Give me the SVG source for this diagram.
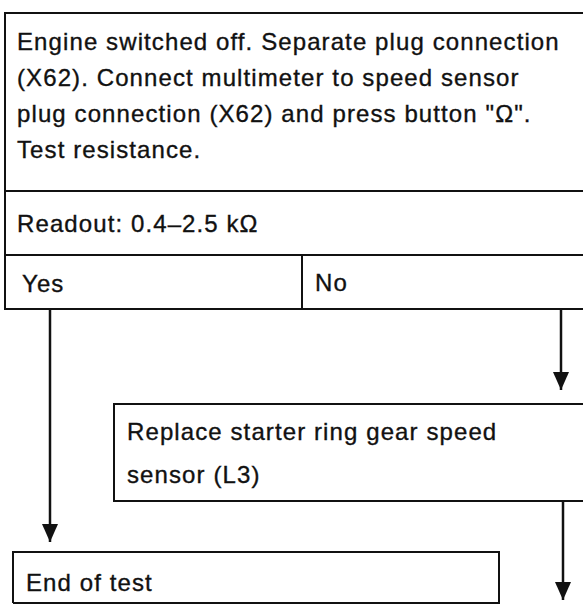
<svg xmlns="http://www.w3.org/2000/svg" width="583" height="605" viewBox="0 0 583 605">
<defs>
<style>
.t{font-family:"Liberation Sans",Arial,sans-serif;font-size:24px;letter-spacing:1.1px;fill:#111;stroke:#111;stroke-width:0.35}
.b{fill:none;stroke:#111;stroke-width:2}
.c{fill:none;stroke:#111;stroke-width:2.5}
</style>
<marker id="ah" viewBox="0 0 18 16" refX="18" refY="8" markerWidth="18" markerHeight="16" markerUnits="userSpaceOnUse" orient="auto">
<path d="M0,0 L18,8 L0,16 Z" fill="#111"/>
</marker>
</defs>
<rect width="583" height="605" fill="#fff"/>
<g id="n1">
<path class="b" d="M590,13 H5 V309 H590 M5,191 H590 M5,255 H590"/>
<text class="t" x="17" y="50">Engine switched off. Separate plug connection</text>
<text class="t" x="17" y="86">(X62). Connect multimeter to speed sensor</text>
<text class="t" x="17" y="122">plug connection (X62) and press button "Ω".</text>
<text class="t" x="17" y="158">Test resistance.</text>
</g>
<g id="n2">
<text class="t" x="17" y="232">Readout: 0.4–2.5 kΩ</text>
</g>
<g id="yes">
<text class="t" x="22" y="292">Yes</text>
</g>
<g id="no">
<path class="b" d="M302,255 V309"/>
<text class="t" x="315" y="291">No</text>
</g>
<g id="n3">
<path class="b" d="M590,404 H114 V501 H590"/>
<text class="t" x="127" y="440">Replace starter ring gear speed</text>
<text class="t" x="127" y="483">sensor (L3)</text>
</g>
<g id="n4">
<path class="b" d="M13,603 V552 H499 V603 H13"/>
<text class="t" x="26" y="591">End of test</text>
</g>
<g id="connectors">
<path class="c" d="M50,309 V542" marker-end="url(#ah)"/>
<path class="c" d="M561,309 V390" marker-end="url(#ah)"/>
<path class="c" d="M563,501 V600" marker-end="url(#ah)"/>
</g>
</svg>
